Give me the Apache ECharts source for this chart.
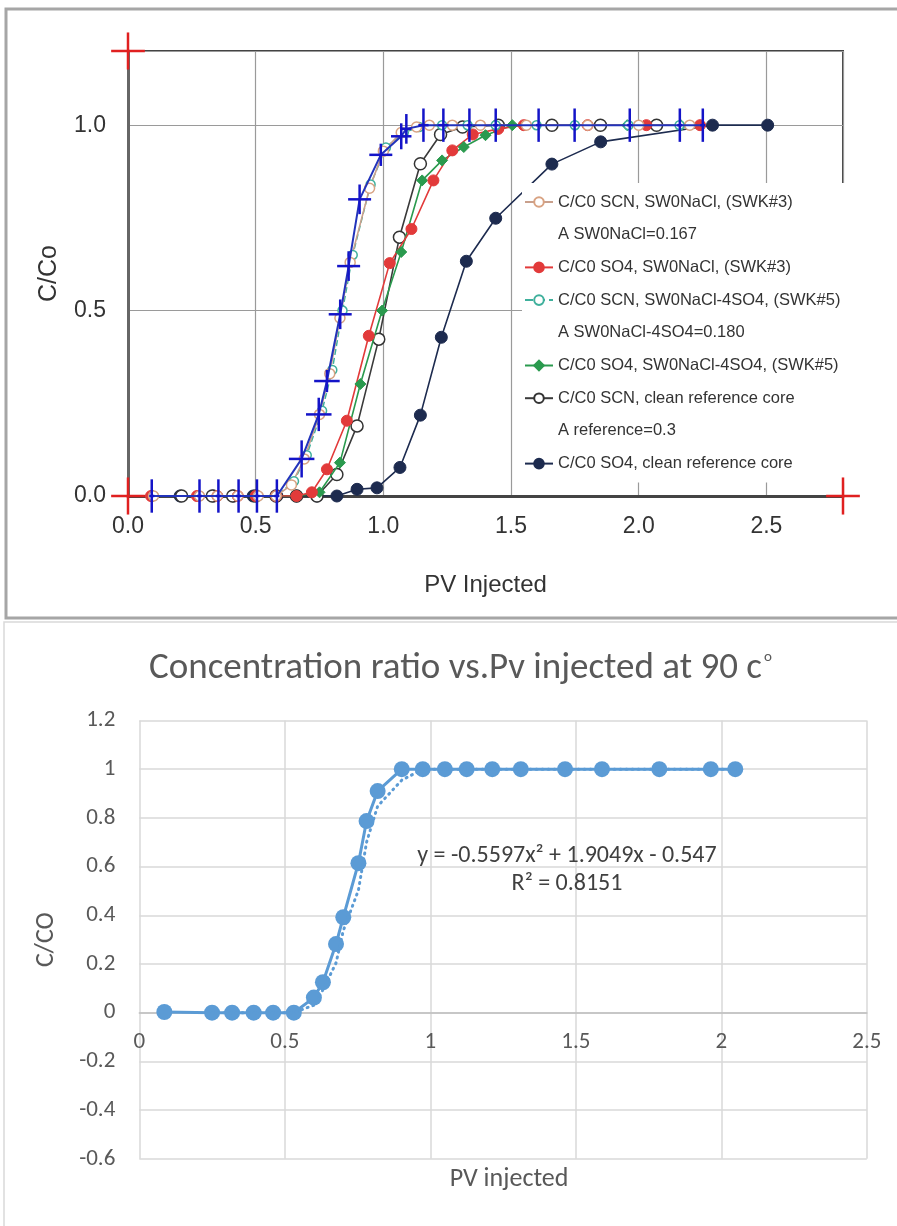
<!DOCTYPE html>
<html>
<head>
<meta charset="utf-8">
<script src="https://cdn.jsdelivr.net/npm/echarts@6.0.0/dist/echarts.min.js"></script>
<style>
html,body{margin:0;padding:0;background:#fff;}
#chart{width:897px;height:1226px;}
</style>
</head>
<body>
<div id="chart"></div>
<script>
// ---------- TOP CHART DATA (PV injected, C/Co) ----------
const topLegendNames = [
  'C/C0 SCN, SW0NaCl, (SWK#3)',
  'A SW0NaCl=0.167',
  'C/C0 SO4, SW0NaCl, (SWK#3)',
  'C/C0 SCN, SW0NaCl-4SO4, (SWK#5)',
  'A SW0NaCl-4SO4=0.180',
  'C/C0 SO4, SW0NaCl-4SO4, (SWK#5)',
  'C/C0 SCN, clean reference core',
  'A reference=0.3',
  'C/C0 SO4, clean reference core'
];
const scnSwk3X = [0.1,0.28,0.35,0.43,0.51,0.58,0.64,0.69,0.75,0.79,0.83,0.87,0.946,1.0,1.07,1.13,1.18,1.27,1.38,1.56,1.80,2.0,2.2];
const scnSwk3Y = [0,0,0,0,0,0,0.03,0.1,0.22,0.33,0.48,0.63,0.83,0.93,0.98,0.995,1,1,1,1,1,1,1];
const so4Swk3X = [0.09,0.27,0.35,0.43,0.5,0.58,0.66,0.72,0.779,0.857,0.943,1.025,1.11,1.196,1.27,1.35,1.45,1.55,1.80,2.03,2.24];
const so4Swk3Y = [0,0,0,0,0,0,0,0.01,0.072,0.203,0.432,0.628,0.72,0.851,0.932,0.975,0.99,1,1,1,1];
const scnSwk5X = [0.1,0.28,0.35,0.43,0.51,0.58,0.65,0.7,0.76,0.8,0.84,0.88,0.95,1.01,1.08,1.14,1.23,1.33,1.44,1.6,1.75,1.96,2.16];
const scnSwk5Y = [0,0,0,0,0,0,0.04,0.11,0.23,0.34,0.5,0.65,0.84,0.94,0.98,0.995,1,1,1,1,1,1,1];
const so4Swk5X = [0.1,0.28,0.35,0.43,0.5,0.58,0.66,0.75,0.83,0.91,0.995,1.07,1.152,1.23,1.315,1.40,1.505,1.75,1.955,2.165];
const so4Swk5Y = [0,0,0,0,0,0,0,0.01,0.09,0.302,0.5,0.658,0.851,0.905,0.941,0.973,1,1,1,1];
const scnRefX = [0.21,0.33,0.41,0.5,0.58,0.66,0.74,0.818,0.897,0.982,1.063,1.145,1.224,1.31,1.45,1.66,1.85,2.07];
const scnRefY = [0,0,0,0,0,0,0.0,0.058,0.189,0.423,0.698,0.896,0.975,0.995,1,1,1,1];
const so4RefX = [0.204,0.335,0.413,0.49,0.583,0.66,0.74,0.818,0.897,0.975,1.065,1.145,1.227,1.325,1.44,1.66,1.851,2.289,2.505];
const so4RefY = [0,0,0,0,0,0,0,0.0,0.018,0.022,0.077,0.218,0.428,0.633,0.749,0.895,0.955,1.0,1.0];
const crossX  = [0.093,0.28,0.354,0.433,0.505,0.583,0.68,0.747,0.779,0.831,0.864,0.907,0.99,1.07,1.09,1.157,1.235,1.337,1.44,1.608,1.749,1.965,2.161,2.251];
const crossY  = [0,0,0,0,0,0,0.10,0.22,0.31,0.49,0.62,0.80,0.92,0.97,0.99,1,1,1,1,1,1,1,1,1];
const crossEX = [0.01,0.01,0.01,0.01,0.01,0.01,0.05,0.05,0.05,0.045,0.045,0.045,0.045,0.04,0.02,0.02,0.02,0.01,0.01,0.01,0.01,0.01,0.01,0.01];
const crossEY = [0.045,0.045,0.045,0.045,0.045,0.045,0.05,0.045,0.03,0.04,0.04,0.04,0.03,0.035,0.04,0.045,0.045,0.045,0.045,0.045,0.045,0.045,0.045,0.045];
// calibration marks (red crosses)
const calX = [0, 0, 2.8];
const calY = [1.2, 0, 0];

// ---------- BOTTOM CHART DATA ----------
const botX = [0.086,0.25,0.319,0.393,0.46,0.531,0.60,0.631,0.676,0.701,0.753,0.781,0.819,0.902,0.974,1.05,1.125,1.213,1.311,1.463,1.590,1.787,1.964,2.048];
const botY = [0.003,0,0,0,0,0,0.062,0.125,0.282,0.392,0.614,0.787,0.910,1,1,1,1,1,1,1,1,1,1,1];
// dotted trend line
const trendY = [null,0,0,0,0,0,0.031,0.094,0.204,0.337,0.503,0.70,0.848,0.955,1,1,1,1,1,1,1,1,1,1];
const equationText = 'y = -0.5597x² + 1.9049x - 0.547';
const r2Text = 'R² = 0.8151';

function zip(xs, ys){ return xs.map((x,i)=>[x, ys[i]]); }
function zip4(a,b,c,d){ return a.map((x,i)=>[x,b[i],c[i],d[i]]); }

const ARIAL = "'Liberation Sans', Arial, sans-serif";
const CAL = "Carlito, Lato, 'Open Sans', sans-serif";

function renderCross(params, api){
  const x = api.value(0), y = api.value(1), ex = api.value(2), ey = api.value(3);
  const c = api.coord([x, y]);
  const l = api.coord([x - ex, y]), r = api.coord([x + ex, y]);
  const t = api.coord([x, y + ey]), b = api.coord([x, y - ey]);
  const col = api.visual('color');
  return {
    type: 'group',
    children: [
      {type:'line', shape:{x1:l[0], y1:c[1], x2:r[0], y2:c[1]}, style:{stroke:col, lineWidth:2.5}},
      {type:'line', shape:{x1:c[0], y1:t[1], x2:c[0], y2:b[1]}, style:{stroke:col, lineWidth:2.5}}
    ]
  };
}

const chart = echarts.init(document.getElementById('chart'), null, {renderer:'canvas'});

function lineSeries(name, xs, ys, color, lineColor, symbol, size, filled, extra){
  return Object.assign({
    name: name, type: 'line', xAxisIndex: 0, yAxisIndex: 0,
    data: zip(xs, ys),
    symbol: symbol, symbolSize: size, showSymbol: true,
    lineStyle: {color: lineColor, width: 1.6},
    itemStyle: filled ? {color: color, borderColor: color, borderWidth: 1} : {color: '#ffffff', borderColor: color, borderWidth: 1.5},
    emphasis: {disabled: true},
    animation: false
  }, extra || {});
}
function dummy(name){
  return {name: name, type:'line', xAxisIndex:0, yAxisIndex:0, data: [], symbol:'none',
    lineStyle:{opacity:0, width:0}, itemStyle:{opacity:0}, animation:false};
}

// bottom grid geometry
const BOT_TOP = 720.5, BOT_H = 438.3, BOT_YMIN = -0.6, BOT_YMAX = 1.2;
const zeroOffset = -BOT_H * (0 - BOT_YMIN) / (BOT_YMAX - BOT_YMIN); // move x axis up to y = 0

const option = {
  animation: false,
  backgroundColor: '#ffffff',
  title: {
    text: 'Concentration ratio vs.Pv injected at 90 c{sup|o}',
    left: 144, top: 645,
    textStyle: {
      fontFamily: CAL, fontSize: 37, fontWeight: 'normal', color: '#595959',
      rich: { sup: {fontFamily: CAL, fontSize: 15, color: '#595959', verticalAlign: 'top', padding:[0,0,20,2]} }
    }
  },
  graphic: [
    {type:'rect', z:-10, shape:{x:6, y:9, width:900, height:609}, style:{fill:'none', stroke:'#a6a6a6', lineWidth:3}},
    {type:'rect', z:-10, shape:{x:4, y:622, width:900, height:610}, style:{fill:'none', stroke:'#d9d9d9', lineWidth:1.5}},
    {type:'text', z:10, x: 567, y: 856, style:{text: equationText, fontFamily: CAL, fontSize: 24, fill:'#404040', align:'center', verticalAlign:'middle'}},
    {type:'text', z:10, x: 567, y: 884, style:{text: r2Text, fontFamily: CAL, fontSize: 24, fill:'#404040', align:'center', verticalAlign:'middle'}}
  ],
  legend: {
    data: topLegendNames,
    orient: 'vertical',
    left: 522, top: 183,
    itemWidth: 28, itemHeight: 12, itemGap: 12.7,
    padding: [9, 6, 9, 2],
    backgroundColor: '#ffffff',
    selectedMode: false,
    textStyle: {fontFamily: ARIAL, fontSize: 16.5, color: '#333333', lineHeight: 20}
  },
  grid: [
    {left: 128, top: 51, width: 715, height: 445, show: true, borderColor: '#444', borderWidth: 2, backgroundColor: 'transparent', outerBoundsMode: 'none', containLabel: false},
    {left: 139.3, top: BOT_TOP, width: 727.5, height: BOT_H, show: false, outerBoundsMode: 'none', containLabel: false}
  ],
  xAxis: [
    {
      gridIndex: 0, type: 'value', min: 0, max: 2.8, interval: 0.5,
      name: 'PV Injected', nameLocation: 'middle', nameGap: 77,
      nameTextStyle: {fontFamily: ARIAL, fontSize: 24, color: '#333'},
      axisLine: {show: true, onZero: false, lineStyle: {color: '#444', width: 3}},
      axisTick: {show: false},
      axisLabel: {margin: 19, fontFamily: ARIAL, fontSize: 23, color: '#333', showMaxLabel: false,
        formatter: v => v.toFixed(1)},
      splitLine: {show: true, lineStyle: {color: '#9a9a9a', width: 1.2}}
    },
    {
      gridIndex: 1, type: 'value', min: 0, max: 2.5, interval: 0.5,
      position: 'bottom', offset: zeroOffset,
      name: 'PV injected', nameLocation: 'middle', nameGap: 154,
      nameTextStyle: {fontFamily: CAL, fontSize: 26, color: '#595959', padding: [0, 0, 0, 12]},
      axisLine: {show: true, onZero: false, lineStyle: {color: '#bfbfbf', width: 1.5}},
      axisTick: {show: false},
      axisLabel: {margin: 18, fontFamily: CAL, fontSize: 23, color: '#595959'},
      splitLine: {show: true, lineStyle: {color: '#d9d9d9', width: 1.5}}
    }
  ],
  yAxis: [
    {
      gridIndex: 0, type: 'value', min: 0, max: 1.2, interval: 0.5,
      name: 'C/Co', nameLocation: 'middle', nameGap: 66, nameRotate: 90,
      nameTextStyle: {fontFamily: ARIAL, fontSize: 25, color: '#333'},
      axisLine: {show: true, lineStyle: {color: '#666', width: 3}},
      axisTick: {show: false},
      axisLabel: {margin: 22, fontFamily: ARIAL, fontSize: 23, color: '#333', showMaxLabel: false,
        formatter: v => v.toFixed(1)},
      splitLine: {show: true, lineStyle: {color: '#9a9a9a', width: 1.2}}
    },
    {
      gridIndex: 1, type: 'value', min: BOT_YMIN, max: BOT_YMAX, interval: 0.2,
      name: 'C/CO', nameLocation: 'middle', nameGap: 80, nameRotate: 90,
      nameTextStyle: {fontFamily: CAL, fontSize: 26, color: '#595959'},
      axisLine: {show: false},
      axisTick: {show: false},
      axisLabel: {margin: 24, fontFamily: CAL, fontSize: 23, color: '#595959',
        formatter: v => String(Math.round(v * 10) / 10)},
      splitLine: {show: true, lineStyle: {color: '#d9d9d9', width: 1.5}}
    }
  ],
  series: [
    lineSeries(topLegendNames[8], so4RefX, so4RefY, '#1d2b4f', '#1d2b4f', 'circle', 12, true, {z: 3}),
    lineSeries(topLegendNames[6], scnRefX, scnRefY, '#333333', '#3a3a3a', 'circle', 12, false, {z: 3}),
    lineSeries(topLegendNames[5], so4Swk5X, so4Swk5Y, '#2a9a4e', '#2a9a4e', 'diamond', 11, true, {z: 4}),
    lineSeries(topLegendNames[2], so4Swk3X, so4Swk3Y, '#e23a3a', '#e23a3a', 'circle', 11, true, {z: 4}),
    lineSeries(topLegendNames[3], scnSwk5X, scnSwk5Y, '#3fb09c', '#3fb09c', 'circle', 9, false, {z: 4, lineStyle:{color:'#3fb09c', width:1.5, type:'dashed'}}),
    lineSeries(topLegendNames[0], scnSwk3X, scnSwk3Y, '#d8a282', '#c9a08c', 'circle', 10, false, {z: 4}),
    dummy(topLegendNames[1]),
    dummy(topLegendNames[4]),
    dummy(topLegendNames[7]),
    {
      name: 'digitised', type: 'line', xAxisIndex: 0, yAxisIndex: 0,
      data: zip(crossX, crossY), symbol: 'none',
      lineStyle: {color: '#2233bb', width: 2}, z: 5, animation: false
    },
    {
      name: 'digitised crosses', type: 'custom', xAxisIndex: 0, yAxisIndex: 0,
      renderItem: renderCross, data: zip4(crossX, crossY, crossEX, crossEY),
      encode: {x: 0, y: 1}, itemStyle: {color: '#1414c8'}, z: 6, animation: false
    },
    {
      name: 'calibration', type: 'custom', xAxisIndex: 0, yAxisIndex: 0, clip: false,
      renderItem: renderCross, data: zip4(calX, calY, calX.map(()=>0.066), calY.map(()=>0.05)),
      encode: {x: 0, y: 1}, itemStyle: {color: '#e02020'}, z: 7, animation: false
    },
    {
      name: 'C/CO', type: 'line', xAxisIndex: 1, yAxisIndex: 1,
      data: zip(botX, botY), symbol: 'circle', symbolSize: 16,
      lineStyle: {color: '#5b9bd5', width: 3}, itemStyle: {color: '#5b9bd5'}, z: 3, animation: false
    },
    {
      name: 'trend', type: 'line', xAxisIndex: 1, yAxisIndex: 1,
      data: zip(botX, trendY), symbol: 'none', connectNulls: false,
      lineStyle: {color: '#5b9bd5', width: 3, type: [1, 5], cap: 'round'}, z: 4, animation: false
    }
  ]
};
chart.setOption(option);
</script>
</body>
</html>
